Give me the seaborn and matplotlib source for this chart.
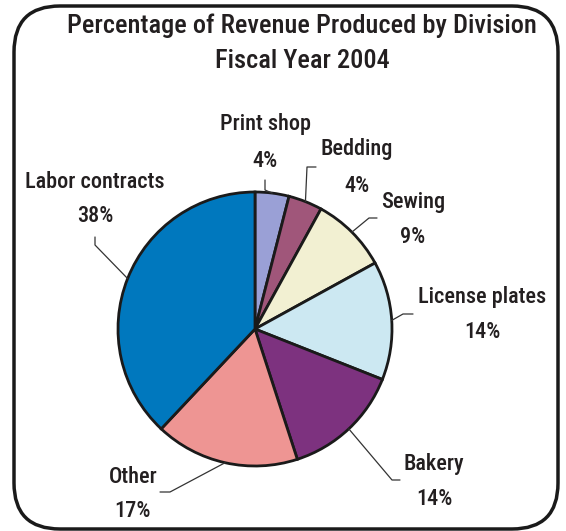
import numpy as np
import pandas as pd
import matplotlib
matplotlib.use("Agg")
import matplotlib.pyplot as plt
import matplotlib.font_manager as fm
import seaborn as sns
from matplotlib.patches import FancyBboxPatch

# ---- data ----
divisions = ["Print shop", "Bedding", "Sewing", "License plates", "Bakery", "Other", "Labor contracts"]
percentages = [4, 4, 9, 14, 14, 17, 38]
pct_labels = [f"{p}%" for p in percentages]
colors = ["#9AA0D6", "#A0567A", "#F2F0D2", "#CCE8F2", "#7D327F", "#EE9593", "#0078BE"]
title_lines = ["Percentage of Revenue Produced by Division", "Fiscal Year 2004"]

df = pd.DataFrame({"division": divisions, "pct": percentages, "label": pct_labels, "color": colors})

sns.set_theme(style="white")
available = {f.name for f in fm.fontManager.ttflist}
prefs = ["Liberation Sans Narrow", "Arial Narrow", "Roboto Condensed", "Archivo Narrow", "PT Sans Narrow"]
chosen = [n for n in prefs if n in available][:1]
plt.rcParams["font.family"] = chosen + ["DejaVu Sans"]

W, H = 566, 531
TXT = "#231f20"
WEIGHT = "medium"

def Y(py):
    return H - py

# layout (pixel positions, top-left origin): text centre x, name baseline, pct baseline, elbow, end
layout = {
    "Print shop":      (265, 130, 167, (265, 190), (265, 180)),
    "Bedding":         (357, 155, 192, (307, 167), (316, 167)),
    "Sewing":          (413, 208, 243, (369, 218), (377, 218)),
    "License plates":  (482, 303, 338, (403, 314), (413, 314)),
    "Bakery":          (434, 470, 505, (392, 480), (400, 480)),
    "Other":           (133, 483, 517, (170, 492), (160, 492)),
    "Labor contracts": (95, 188, 222, (95, 245), (95, 237)),
}

fig = plt.figure(figsize=(W / 100, H / 100), dpi=100)
ax = fig.add_axes([0, 0, 1, 1])

cx, cy, R = 255, Y(329), 137
wedges, _ = ax.pie(df["pct"], colors=df["color"], startangle=90, counterclock=False,
                   center=(cx, cy), radius=R,
                   wedgeprops=dict(edgecolor="#1a1a1a", linewidth=2))

ax.set_xlim(0, W)
ax.set_ylim(0, H)
ax.axis("off")

# frame
frame = FancyBboxPatch((14, Y(529)), 544, 523, boxstyle="round,pad=0,rounding_size=46",
                       facecolor="none", edgecolor="#1a1a1a", linewidth=2.5, zorder=5)
ax.add_patch(frame)

# title
ax.text(302, Y(33), title_lines[0], ha="center", va="baseline", fontsize=19,
        fontweight=WEIGHT, color=TXT)
ax.text(302, Y(68), title_lines[1], ha="center", va="baseline", fontsize=19,
        fontweight=WEIGHT, color=TXT)

# labels and leader lines
for w, row in zip(wedges, df.itertuples()):
    tx, nb, pb, elbow, end = layout[row.division]
    mid = np.deg2rad((w.theta1 + w.theta2) / 2)
    ex, ey = cx + R * np.cos(mid), cy + R * np.sin(mid)
    ax.plot([ex, elbow[0], end[0]], [ey, Y(elbow[1]), Y(end[1])], color="#333333", lw=0.9, zorder=1)
    ax.text(tx, Y(nb), row.division, ha="center", va="baseline", fontsize=16,
            fontweight=WEIGHT, color=TXT)
    ax.text(tx, Y(pb), row.label, ha="center", va="baseline", fontsize=16,
            fontweight=WEIGHT, color=TXT)

fig.savefig("out.png", dpi=100)
